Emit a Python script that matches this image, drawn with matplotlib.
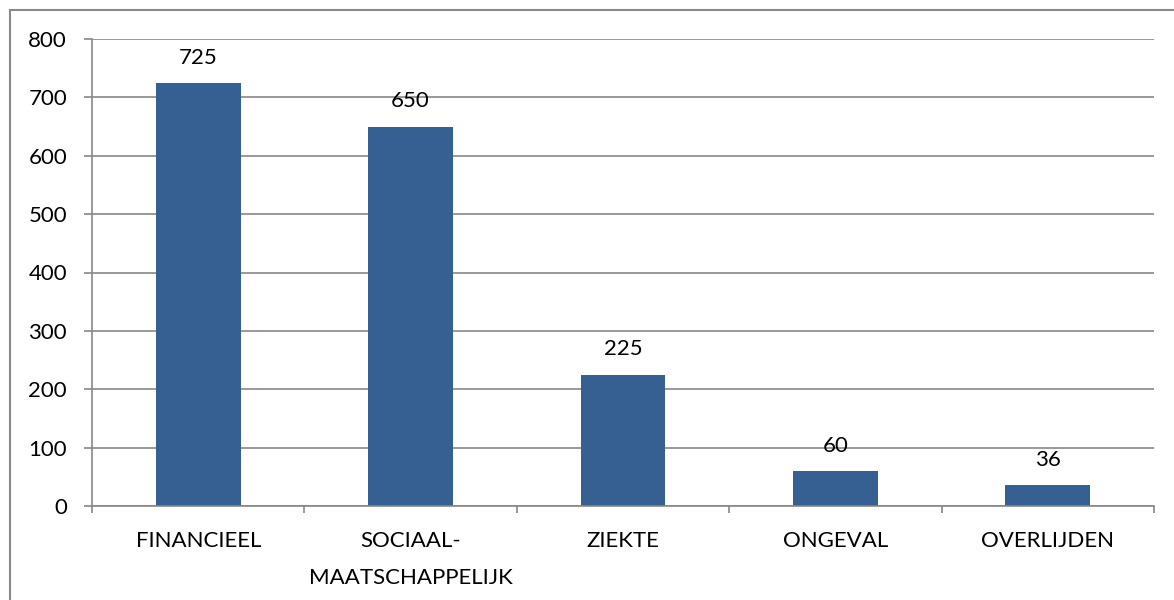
import numpy as np
import matplotlib
matplotlib.use("Agg")
import matplotlib.pyplot as plt
from matplotlib.patches import Rectangle

# data
categories = ["FINANCIEEL", "SOCIAAL-\nMAATSCHAPPELIJK", "ZIEKTE", "ONGEVAL", "OVERLIJDEN"]
values = [725, 650, 225, 60, 36]
yticks = [0, 100, 200, 300, 400, 500, 600, 700, 800]

plt.rcParams['font.family'] = ['Lato', 'DejaVu Sans']

bar_color = "#376092"
grid_color = "#878787"
fs = 16

W, H = 1174, 600
fig = plt.figure(figsize=(W / 100, H / 100), dpi=100)
ax = fig.add_axes([92 / W, 1 - 506 / H, (1154 - 92) / W, (506 - 39) / H])

x = np.arange(len(categories))
bars = ax.bar(x, values, width=0.4, color=bar_color, zorder=3)

for xi, v in zip(x, values):
    ax.annotate(str(v), (xi, v), xytext=(0, 11), textcoords="offset points",
                ha="center", va="bottom", fontsize=fs, color="black")

ax.set_xlim(-0.5, len(categories) - 0.5)
ax.set_ylim(0, 800)
ax.set_yticks(yticks)
ax.set_yticklabels([str(t) for t in yticks], fontsize=fs)
ax.yaxis.grid(True, color=grid_color, lw=1.2, zorder=0)

ax.set_xticks(x)
ax.set_xticklabels(categories, fontsize=fs, linespacing=2.05, va="top")
ax.set_xticks(np.arange(len(categories) + 1) - 0.5, minor=True)
ax.tick_params(axis="x", which="major", length=0, pad=18)
ax.tick_params(axis="x", which="minor", length=5, width=1.2, color=grid_color)
ax.tick_params(axis="y", length=6, width=1.2, color=grid_color, pad=12)

for s in ["top", "right"]:
    ax.spines[s].set_visible(False)
for s in ["left", "bottom"]:
    ax.spines[s].set_color(grid_color)
    ax.spines[s].set_linewidth(1.2)
    ax.spines[s].set_zorder(4)

# outer chart border
fig.patches.append(Rectangle((10 / W, -0.1), 1.2, 1.1 - 10 / H, transform=fig.transFigure,
                             fill=False, edgecolor="#8a8a8a", lw=1.5))

fig.savefig("out.png", dpi=100)
